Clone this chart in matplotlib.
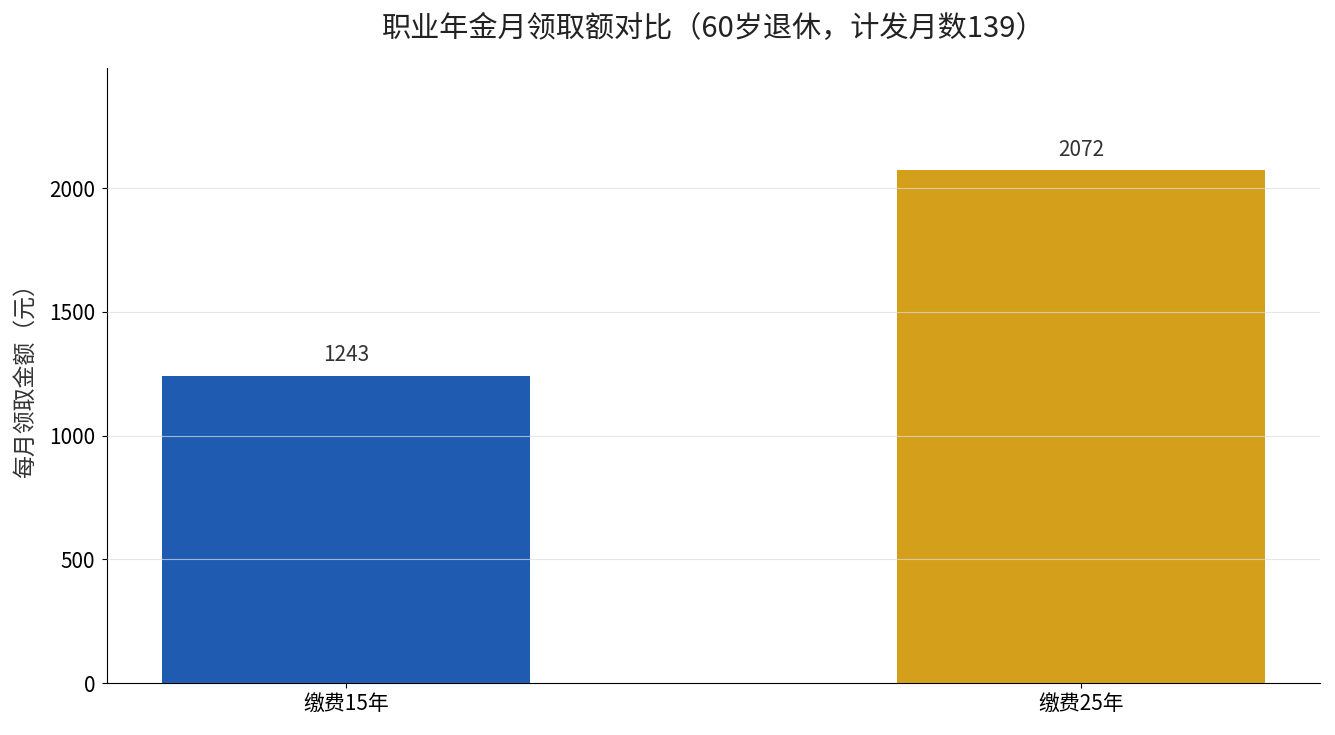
import matplotlib
matplotlib.use('Agg')
import matplotlib.pyplot as plt

plt.rcParams['font.family'] = ['Noto Sans CJK SC', 'DejaVu Sans']

categories = ['缴费15年', '缴费25年']
values = [1243, 2072]
colors = ['#1f5bb0', '#d4a01b']

fig, ax = plt.subplots(figsize=(13.35, 7.35), dpi=100)
fig.subplots_adjust(left=0.0801, right=0.9888, top=0.9075, bottom=0.0707)

bars = ax.bar(categories, values, width=0.5, color=colors, zorder=1)
for b, v in zip(bars, values):
    ax.annotate(str(v), (b.get_x() + b.get_width() / 2, v),
                xytext=(0, 7), textcoords='offset points',
                ha='center', va='bottom', fontsize=15, color='#333333')

ax.set_ylim(0, max(values) * 1.2)
ax.set_ylabel('每月领取金额（元）', fontsize=16.5, color='#333333', labelpad=8)
ax.set_title('职业年金月领取额对比（60岁退休，计发月数139）', fontsize=21,
             color='#222222', pad=22)
ax.tick_params(labelsize=15)
ax.tick_params(axis='y', pad=5)
ax.yaxis.grid(True, color='#dddddd', linewidth=0.8, alpha=0.7)
ax.set_axisbelow(False)
for bar in bars:
    bar.set_zorder(1)
ax.spines['top'].set_visible(False)
ax.spines['right'].set_visible(False)

fig.savefig('out.png', dpi=100)
